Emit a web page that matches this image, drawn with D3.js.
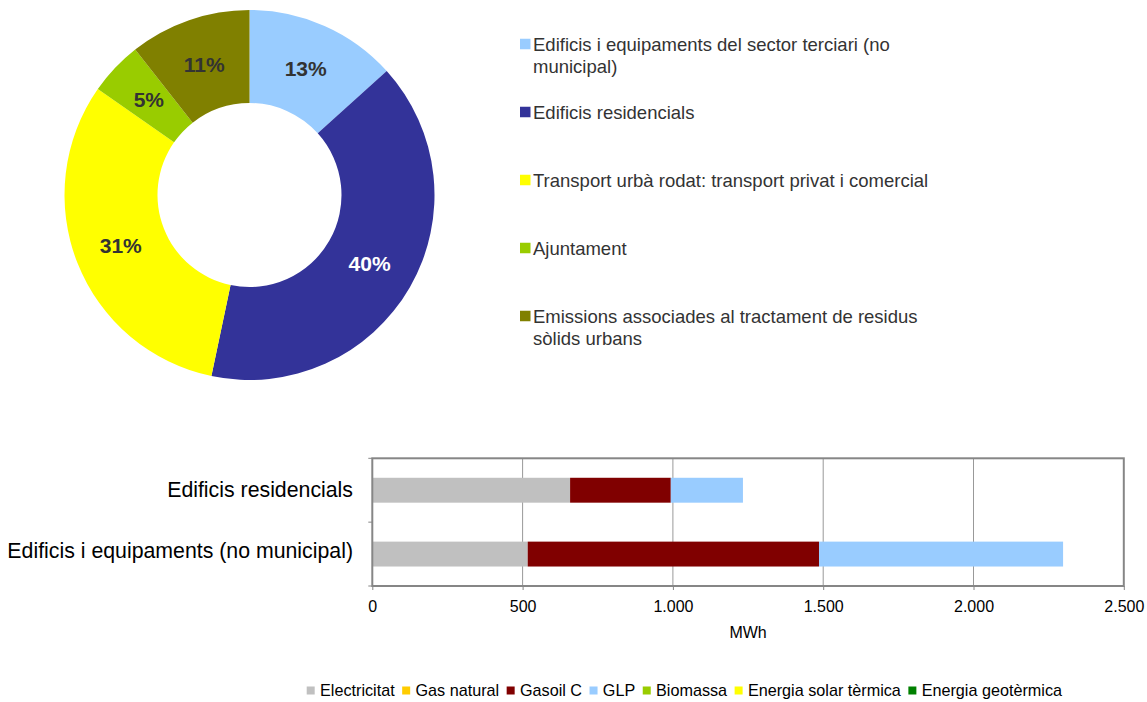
<!DOCTYPE html>
<html>

<head>
    <meta charset="utf-8">
    <style>
        body {
            margin: 0;
            background: #fff;
        }

        svg {
            font-family: 'Liberation Sans', Arial, sans-serif;
            display: block;
        }
    </style>
</head>

<body>
    <svg width="1147" height="702"></svg>
</body>

<script src="https://d3js.org/d3.v7.min.js"></script>

<script>
    // donut: share of emissions per sector (%)
    let sectors = [
        "Edificis i equipaments del sector terciari (no municipal)",
        "Edificis residencials",
        "Transport urbà rodat: transport privat i comercial",
        "Ajuntament",
        "Emissions associades al tractament de residus sòlids urbans"
    ]
    let sectorShares = [13.3, 40.0, 31.4, 4.7, 10.6]
    let sectorColors = ["#99CCFF", "#333399", "#FFFF00", "#99CC00", "#808000"]

    // bars: energy use by fuel (MWh)
    let barCategories = ["Edificis residencials", "Edificis i equipaments (no municipal)"]
    let fuels = ["Electricitat", "Gas natural", "Gasoil C", "GLP", "Biomassa", "Energia solar tèrmica", "Energia geotèrmica"]
    let fuelColors = ["#C0C0C0", "#FFCC00", "#800000", "#99CCFF", "#99CC00", "#FFFF00", "#008000"]
    let residencialMWh = [658, 0, 335, 240, 0, 0, 0]
    let noMunicipalMWh = [517, 0, 969, 812, 0, 0, 0]
    let xTicks = [0, 500, 1000, 1500, 2000, 2500]

    let svg = d3.select("svg")

    // ---------- donut ----------
    let pie = d3.pie().sort(null).value(d => d)
    let arc = d3.arc().innerRadius(92).outerRadius(185)

    let donut = svg.append("g")
        .attr("transform", "translate(249.5,195)")

    donut.selectAll("path")
        .data(pie(sectorShares))
        .join("path")
        .attr("d", arc)
        .style("fill", (d, i) => sectorColors[i])

    donut.selectAll("text")
        .data(pie(sectorShares))
        .join("text")
        .attr("x", d => arc.centroid(d)[0])
        .attr("y", d => arc.centroid(d)[1])
        .attr("text-anchor", "middle")
        .attr("dominant-baseline", "central")
        .style("font-size", "21px")
        .style("font-weight", "bold")
        .style("fill", (d, i) => i == 1 ? "#fff" : "#333")
        .text(d => Math.round(d.data) + "%")

    // legend for donut
    let legend = svg.append("g")
    sectors.forEach((name, i) => {
        let yc = 44 + i * 68
        legend.append("rect")
            .attr("x", 520)
            .attr("y", yc - 5.25)
            .attr("width", 10.5)
            .attr("height", 10.5)
            .style("fill", sectorColors[i])

        let t = legend.append("text")
            .attr("x", 533)
            .attr("y", yc + 6.6)
            .style("font-size", "18.5px")
            .style("fill", "#333")

        // wrap long labels
        let words = name.split(" ")
        let line = []
        let tspan = t.append("tspan").attr("x", 533)
        let lineNo = 0
        words.forEach(w => {
            line.push(w)
            tspan.text(line.join(" "))
            if (tspan.node().getComputedTextLength() > 415 && line.length > 1) {
                line.pop()
                tspan.text(line.join(" "))
                line = [w]
                lineNo++
                tspan = t.append("tspan")
                    .attr("x", 533)
                    .attr("y", yc + 6.6 + lineNo * 22)
                    .text(w)
            }
        })
    })

    // ---------- stacked bars ----------
    let plotL = 372.3, plotR = 1123.8, plotT = 458.3, plotB = 586

    let x = d3.scaleLinear()
        .domain([0, 2500])
        .range([plotL, plotR])

    let y = d3.scaleBand()
        .domain(barCategories)
        .range([plotT, plotB])
        .paddingInner(0.61)
        .paddingOuter(0.305)

    let rows = [residencialMWh, noMunicipalMWh].map((vals, i) => {
        let r = { cat: barCategories[i] }
        fuels.forEach((f, j) => r[f] = vals[j])
        return r
    })

    let series = d3.stack().keys(fuels)(rows)

    let locale = d3.formatLocale({ decimal: ",", thousands: ".", grouping: [3], currency: ["", "€"] })
    let fmt = locale.format(",")

    // gridlines
    svg.append("g")
        .selectAll("line")
        .data(xTicks.slice(1, -1))
        .join("line")
        .attr("x1", d => x(d))
        .attr("x2", d => x(d))
        .attr("y1", plotT)
        .attr("y2", plotB)
        .style("stroke", "#999")
        .style("stroke-width", 1)

    svg.append("g")
        .selectAll("g")
        .data(series)
        .join("g")
        .style("fill", (d, i) => fuelColors[i])
        .selectAll("rect")
        .data(d => d)
        .join("rect")
        .attr("x", d => x(d[0]))
        .attr("width", d => x(d[1]) - x(d[0]))
        .attr("y", d => y(d.data.cat))
        .attr("height", y.bandwidth())

    // plot border
    svg.append("rect")
        .attr("x", plotL)
        .attr("y", plotT)
        .attr("width", plotR - plotL)
        .attr("height", plotB - plotT)
        .style("fill", "none")
        .style("stroke", "#868686")
        .style("stroke-width", 2)

    // x axis
    let xAxis = svg.append("g")
        .attr("transform", `translate(0,${plotB})`)
        .call(d3.axisBottom(x).tickValues(xTicks).tickFormat(fmt).tickSize(4).tickPadding(10.5))
    xAxis.select(".domain").remove()
    xAxis.selectAll("line").style("stroke", "#868686")
    xAxis.selectAll("text")
        .style("font-size", "16px")
        .style("font-family", "'Liberation Sans', Arial, sans-serif")
        .style("fill", "#000")

    // y axis ticks at band edges
    let edges = d3.range(barCategories.length + 1).map(i => plotT + i * y.step())
    svg.append("g")
        .selectAll("line")
        .data(edges)
        .join("line")
        .attr("x1", plotL - 4)
        .attr("x2", plotL)
        .attr("y1", d => d)
        .attr("y2", d => d)
        .style("stroke", "#868686")

    svg.append("g")
        .selectAll("text")
        .data(barCategories)
        .join("text")
        .attr("x", 353)
        .attr("y", (d, i) => y(d) + y.bandwidth() / 2 - i * 3)
        .attr("text-anchor", "end")
        .attr("dominant-baseline", "central")
        .style("font-size", "21.3px")
        .style("fill", "#000")
        .text(d => d)

    svg.append("text")
        .attr("x", (plotL + plotR) / 2)
        .attr("y", 638)
        .attr("text-anchor", "middle")
        .style("font-size", "16px")
        .text("MWh")

    // fuel legend
    let fl = svg.append("g")
    let lx = 306.7
    fuels.forEach((f, i) => {
        fl.append("rect")
            .attr("x", lx)
            .attr("y", 686.5)
            .attr("width", 8)
            .attr("height", 8)
            .style("fill", fuelColors[i])
        let t = fl.append("text")
            .attr("x", lx + 13.3)
            .attr("y", 695.7)
            .style("font-size", "16.2px")
            .style("fill", "#000")
            .text(f)
        lx += 13.3 + t.node().getComputedTextLength() + 7.5
    })
</script>

</html>
